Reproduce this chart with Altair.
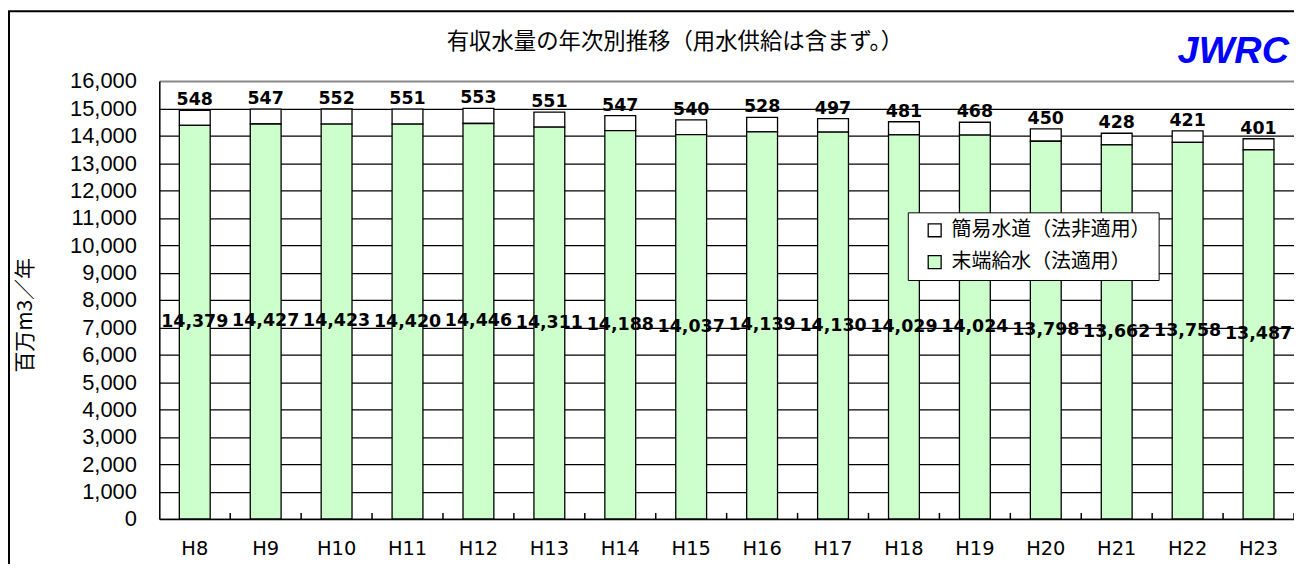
import altair as alt
import pandas as pd

years = ["H8", "H9", "H10", "H11", "H12", "H13", "H14", "H15",
         "H16", "H17", "H18", "H19", "H20", "H21", "H22", "H23"]
simple = [548, 547, 552, 551, 553, 551, 547, 540, 528, 497, 481, 468, 450, 428, 421, 401]
end = [14379, 14427, 14423, 14420, 14446, 14311, 14188, 14037,
       14139, 14130, 14029, 14024, 13798, 13662, 13758, 13487]
series_names = ["簡易水道（法非適用）", "末端給水（法適用）"]
colors = ["#FFFFFF", "#CCFFCC"]
y_ticks = list(range(0, 16001, 1000))
title_text = "有収水量の年次別推移（用水供給は含まず。）"
brand_text = "JWRC"

W = 1140
H = 440
step = W / len(years)

long = pd.DataFrame({
    "year": years * 2,
    "series": [series_names[0]] * len(years) + [series_names[1]] * len(years),
    "value": simple + end,
    "ord": [1] * len(years) + [0] * len(years),
})
wide = pd.DataFrame({"year": years, "simple": simple, "end": end})
wide["total"] = wide["simple"] + wide["end"]
wide["mid"] = wide["end"] / 2
wide["simple_lbl"] = [f"{v:,}" for v in simple]
wide["end_lbl"] = [f"{v:,}" for v in end]

deco = pd.DataFrame({"k": [0]})

xscale = alt.Scale(domain=years, paddingInner=0.565, paddingOuter=0.2825)
yscale = alt.Scale(domain=[0, 16000], nice=False)

x_axis = alt.Axis(title=None, labelAngle=0, ticks=False, labelPadding=21,
                  labelFont="DejaVu Sans", labelFontSize=19.5, labelColor="black",
                  domainColor="black", domainWidth=1.5, grid=False)
y_axis = alt.Axis(title="百万m3／年", values=y_ticks, format=",d", ticks=False,
                  labelPadding=23, labelFont="Liberation Sans", labelFontSize=22,
                  labelColor="black", labelOverlap=False,
                  domainColor="black", domainWidth=1.5, grid=True,
                  gridColor={"condition": {"test": "datum.value === 16000", "value": "#888888"},
                             "value": "#000000"},
                  gridWidth={"condition": {"test": "datum.value === 16000", "value": 2},
                             "value": 1.3},
                  titleX=-134, titleY=235, titleAngle=270, titleAlign="center",
                  titleBaseline="middle", titleFont="Noto Sans CJK JP", titleFontSize=21,
                  titleFontWeight="normal", titleColor="black")

x_enc = alt.X("year:N", scale=xscale, sort=years, axis=x_axis)

bars = alt.Chart(long).mark_bar(stroke="black", strokeWidth=1.3).encode(
    x=x_enc,
    y=alt.Y("value:Q", stack="zero", scale=yscale, axis=y_axis),
    color=alt.Color("series:N",
                    scale=alt.Scale(domain=series_names, range=colors),
                    legend=alt.Legend(title=None, orient="none", legendX=752, legendY=132,
                                      fillColor="white", strokeColor="black",
                                      padding=8, symbolOffset=9, labelOffset=7,
                                      rowPadding=12, symbolType="square", symbolSize=169,
                                      symbolStrokeColor="black", symbolStrokeWidth=1.3,
                                      labelFont="Noto Sans CJK JP", labelFontSize=20,
                                      labelColor="black", labelLimit=400)),
    order=alt.Order("ord:Q", sort="ascending"),
)

label_font = "DejaVu Sans"

top_labels = alt.Chart(wide).mark_text(
    font=label_font, fontWeight="bold", fontSize=17.5, baseline="alphabetic",
    dy=-5, color="black"
).encode(
    x=x_enc,
    y=alt.Y("total:Q", scale=yscale, axis=y_axis),
    text="simple_lbl:N",
)

mid_labels = alt.Chart(wide).mark_text(
    font=label_font, fontWeight="bold", fontSize=17.5, baseline="middle", color="black"
).encode(
    x=x_enc,
    y=alt.Y("mid:Q", scale=yscale, axis=y_axis),
    text="end_lbl:N",
)

band_ticks = alt.Chart(wide).mark_rule(color="black", strokeWidth=1.5, xOffset=step / 2).encode(
    x=x_enc,
    y=alt.value(H),
    y2=alt.value(H - 6),
)

frame_left = alt.Chart(deco).mark_rule(color="black", strokeWidth=2).encode(
    x=alt.value(-151), y=alt.value(-70), y2=alt.value(H + 60)
)
frame_top = alt.Chart(deco).mark_rule(color="black", strokeWidth=2).encode(
    x=alt.value(-152), x2=alt.value(W + 10), y=alt.value(-70)
)
title_mark = alt.Chart(deco).mark_text(
    text=title_text, font="Noto Sans CJK JP", fontSize=22.5, fontWeight="normal",
    color="black", align="center", baseline="middle"
).encode(x=alt.value(518), y=alt.value(-39))
jwrc = alt.Chart(deco).mark_text(
    text=brand_text, font="Liberation Sans", fontSize=38, fontWeight="bold",
    fontStyle="italic", color="#0000FF", align="center", baseline="alphabetic"
).encode(x=alt.value(1079), y=alt.value(-18))

chart = alt.layer(
    bars, band_ticks, top_labels, mid_labels, frame_left, frame_top, title_mark, jwrc
).properties(
    width=W, height=H,
    padding={"left": 152, "top": 72, "right": 0, "bottom": 44},
    autosize=alt.AutoSizeParams(type="none"),
).configure_view(strokeWidth=0).configure(background="white")

chart.save("out.html", embed_options={"renderer": "svg", "actions": False})
